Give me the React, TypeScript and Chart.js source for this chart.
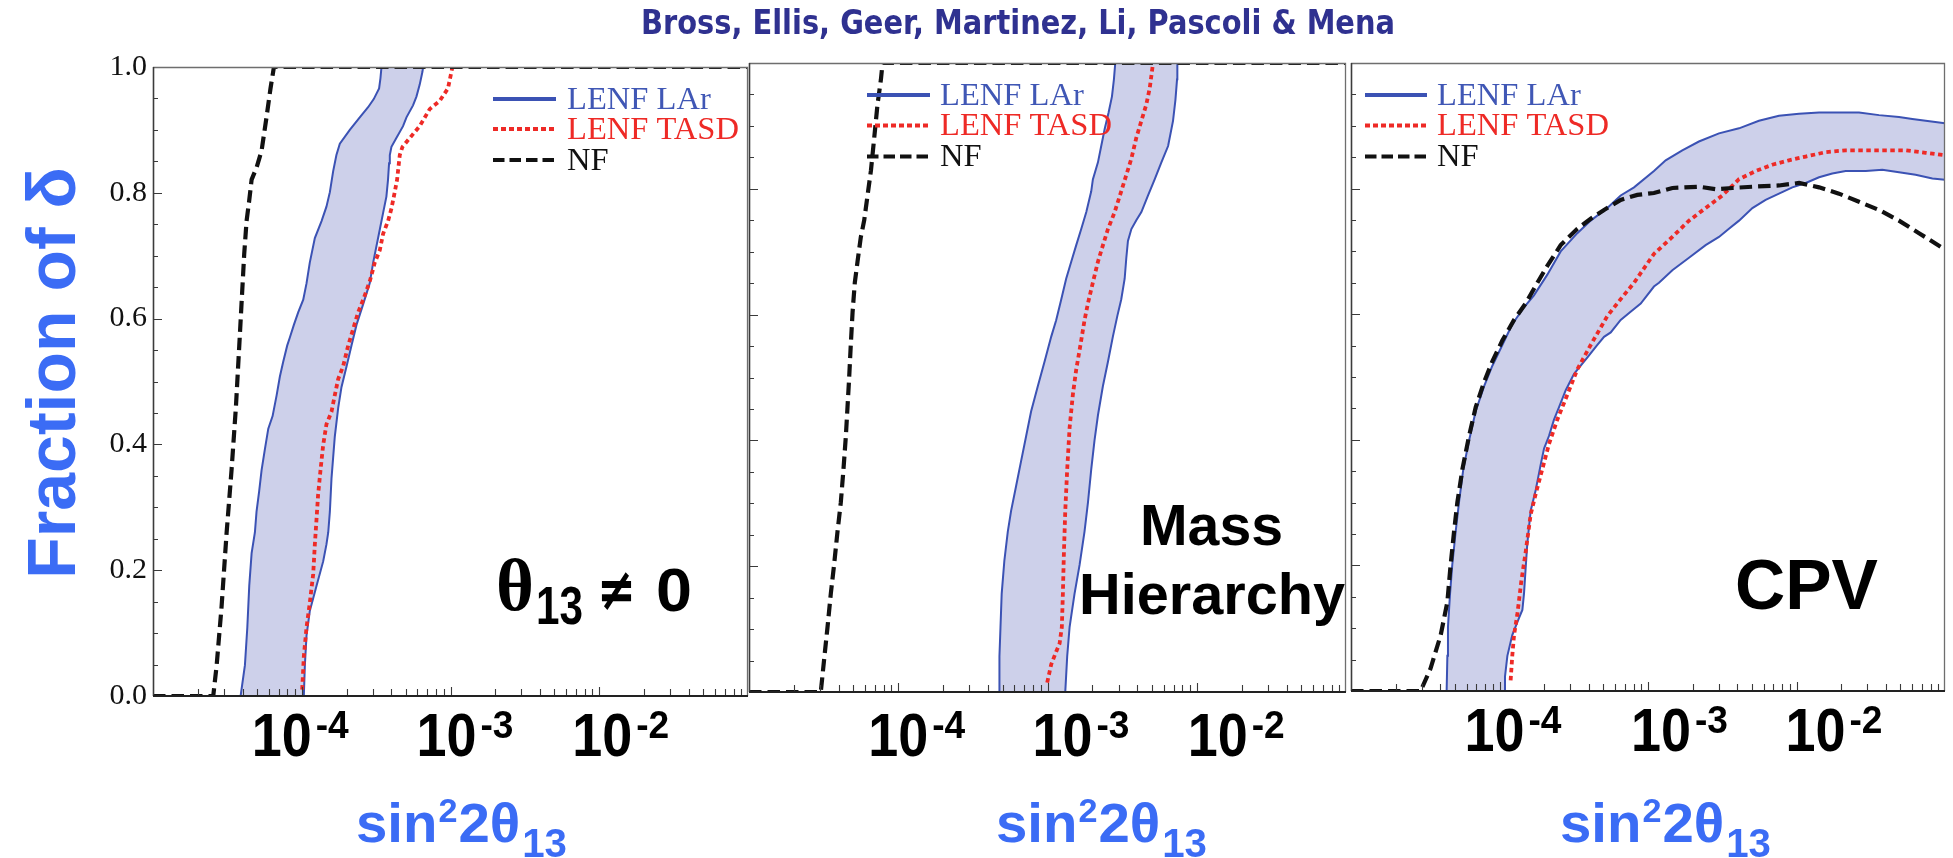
import React, { useEffect, useRef } from 'react';
import { Chart, registerables } from 'chart.js';

Chart.register(...registerables);

const W = 1953;
const H = 858;

// ---------- tick / label data ----------
const xDecadeExps = [-4, -3, -2];
const yTickStep = 0.2;
const legendLabels = ['LENF LAr', 'LENF TASD', 'NF'];
const panelTitleTexts = ['θ13 ≠ 0', 'Mass Hierarchy', 'CPV'];

// ---------- Panel 1 : theta13 != 0  (x given as log10 sin^2 2theta13) ----------
const thetaNfLog = [-5, -4.595, -4.572, -4.539, -4.505, -4.472, -4.443, -4.42, -4.405, -4.387, -4.371, -4.353, -4.337, -4.304, -4.27, -4.237, -4.21, -4.187, -1];
const thetaNfFrac = [0, 0, 0.049, 0.142, 0.26, 0.359, 0.458, 0.557, 0.623, 0.702, 0.755, 0.788, 0.821, 0.84, 0.867, 0.92, 0.966, 1, 1];

const thetaBandLeftLog = [-4.411, -4.382, -4.366, -4.353, -4.337, -4.315, -4.304, -4.286, -4.27, -4.248, -4.225, -4.196, -4.169, -4.147, -4.125, -4.098, -4.08, -4.053, -4.024, -3.99, -3.968, -3.946, -3.912, -3.867, -3.834, -3.811, -3.789, -3.767, -3.744, -3.677, -3.61, -3.554, -3.516, -3.48, -3.471, -3.464];
const thetaBandLeftFrac = [0, 0.049, 0.109, 0.175, 0.227, 0.26, 0.293, 0.326, 0.359, 0.392, 0.425, 0.445, 0.478, 0.508, 0.531, 0.557, 0.57, 0.59, 0.61, 0.63, 0.656, 0.689, 0.728, 0.755, 0.778, 0.801, 0.834, 0.86, 0.878, 0.9, 0.92, 0.936, 0.949, 0.966, 0.982, 1];

const thetaBandRightLog = [-3.986, -3.979, -3.968, -3.946, -3.901, -3.856, -3.834, -3.822, -3.811, -3.8, -3.789, -3.778, -3.755, -3.733, -3.699, -3.666, -3.632, -3.587, -3.543, -3.52, -3.498, -3.475, -3.453, -3.431, -3.42, -3.413, -3.408, -3.397, -3.364, -3.319, -3.296, -3.252, -3.229, -3.207, -3.189, -3.184];
const thetaBandRightFrac = [0, 0.049, 0.096, 0.135, 0.175, 0.214, 0.241, 0.26, 0.293, 0.346, 0.379, 0.412, 0.458, 0.491, 0.524, 0.557, 0.59, 0.623, 0.656, 0.689, 0.715, 0.742, 0.768, 0.794, 0.821, 0.847, 0.86, 0.873, 0.887, 0.906, 0.92, 0.939, 0.953, 0.972, 0.992, 1];

const thetaTasdLog = [-3.997, -3.986, -3.968, -3.946, -3.923, -3.912, -3.901, -3.89, -3.874, -3.856, -3.834, -3.8, -3.778, -3.755, -3.722, -3.688, -3.655, -3.621, -3.587, -3.543, -3.509, -3.475, -3.453, -3.42, -3.397, -3.375, -3.359, -3.341, -3.323, -3.274, -3.207, -3.14, -3.073, -3.017, -2.994, -2.987];
const thetaTasdFrac = [0.01, 0.063, 0.109, 0.148, 0.194, 0.241, 0.28, 0.32, 0.359, 0.399, 0.432, 0.452, 0.478, 0.504, 0.524, 0.557, 0.583, 0.61, 0.63, 0.659, 0.689, 0.709, 0.735, 0.755, 0.775, 0.801, 0.821, 0.86, 0.873, 0.887, 0.906, 0.933, 0.946, 0.966, 0.992, 1];

// ---------- Panel 2 : Mass Hierarchy ----------
const mhNfLog = [-5, -4.519, -4.497, -4.474, -4.452, -4.43, -4.407, -4.385, -4.367, -4.351, -4.34, -4.329, -4.318, -4.306, -4.291, -4.273, -4.251, -4.228, -4.206, -4.183, -4.161, -4.139, -4.116, -4.105, -1];
const mhNfFrac = [0, 0, 0.051, 0.103, 0.156, 0.202, 0.255, 0.301, 0.354, 0.407, 0.453, 0.499, 0.552, 0.604, 0.651, 0.684, 0.723, 0.75, 0.789, 0.829, 0.881, 0.934, 0.974, 1, 1];

const mhBandLeftLog = [-3.322, -3.322, -3.315, -3.307, -3.289, -3.266, -3.244, -3.21, -3.177, -3.143, -3.11, -3.065, -3.02, -2.975, -2.942, -2.908, -2.875, -2.841, -2.808, -2.774, -2.74, -2.707, -2.696, -2.662, -2.64, -2.617, -2.591, -2.568, -2.555, -2.546];
const mhBandLeftFrac = [0, 0.057, 0.103, 0.156, 0.209, 0.255, 0.288, 0.328, 0.367, 0.407, 0.446, 0.486, 0.525, 0.565, 0.591, 0.624, 0.657, 0.684, 0.71, 0.736, 0.763, 0.796, 0.815, 0.842, 0.868, 0.895, 0.921, 0.947, 0.974, 1];

const mhBandRightLog = [-2.881, -2.868, -2.852, -2.819, -2.785, -2.752, -2.729, -2.707, -2.685, -2.662, -2.629, -2.595, -2.562, -2.532, -2.506, -2.483, -2.472, -2.461, -2.438, -2.405, -2.371, -2.327, -2.282, -2.237, -2.192, -2.159, -2.143, -2.132, -2.13];
const mhBandRightFrac = [0, 0.057, 0.103, 0.156, 0.202, 0.255, 0.301, 0.354, 0.4, 0.44, 0.486, 0.525, 0.565, 0.598, 0.624, 0.657, 0.69, 0.717, 0.736, 0.75, 0.763, 0.789, 0.815, 0.842, 0.868, 0.908, 0.941, 0.974, 1];

const mhTasdLog = [-3.002, -2.975, -2.942, -2.919, -2.904, -2.897, -2.89, -2.881, -2.868, -2.852, -2.83, -2.808, -2.779, -2.752, -2.729, -2.696, -2.662, -2.629, -2.595, -2.55, -2.506, -2.472, -2.438, -2.405, -2.371, -2.338, -2.315, -2.3, -2.293];
const mhTasdFrac = [0.015, 0.044, 0.064, 0.077, 0.103, 0.156, 0.222, 0.288, 0.354, 0.42, 0.473, 0.512, 0.552, 0.591, 0.618, 0.651, 0.684, 0.71, 0.736, 0.763, 0.796, 0.822, 0.848, 0.881, 0.908, 0.934, 0.96, 0.987, 1];

// ---------- Panel 3 : CPV ----------
const cpvNfLog = [-5, -4.531, -4.464, -4.396, -4.351, -4.329, -4.306, -4.284, -4.25, -4.205, -4.16, -4.104, -4.048, -3.981, -3.902, -3.824, -3.745, -3.678, -3.588, -3.476, -3.386, -3.296, -3.184, -3.072, -2.96, -2.836, -2.657, -2.544, -2.432, -2.297, -2.118, -1.983, -1.848, -1.714, -1.579, -1.444, -1.31, -1.175, -1.0];
const cpvNfFrac = [0, 0, 0.036, 0.089, 0.142, 0.201, 0.254, 0.3, 0.353, 0.406, 0.452, 0.492, 0.525, 0.558, 0.591, 0.617, 0.65, 0.677, 0.71, 0.736, 0.752, 0.766, 0.782, 0.79, 0.793, 0.801, 0.803, 0.799, 0.801, 0.803, 0.805, 0.809, 0.802, 0.792, 0.779, 0.766, 0.749, 0.729, 0.703];

const cpvBandUpperLog = [-4.356, -4.351, -4.347, -4.333, -4.318, -4.295, -4.273, -4.244, -4.205, -4.16, -4.104, -4.048, -3.981, -3.914, -3.835, -3.768, -3.678, -3.588, -3.476, -3.386, -3.274, -3.184, -3.094, -2.96, -2.881, -2.769, -2.657, -2.522, -2.387, -2.253, -2.118, -1.983, -1.848, -1.714, -1.579, -1.444, -1.31, -1.22, -1.13, -1.0];
const cpvBandUpperFrac = [0, 0.056, 0.102, 0.155, 0.201, 0.254, 0.3, 0.353, 0.399, 0.446, 0.485, 0.518, 0.551, 0.584, 0.611, 0.63, 0.663, 0.7, 0.729, 0.749, 0.769, 0.789, 0.802, 0.828, 0.845, 0.861, 0.875, 0.888, 0.896, 0.908, 0.916, 0.919, 0.921, 0.921, 0.921, 0.917, 0.914, 0.911, 0.908, 0.904];

const cpvBandLowerLog = [-3.963, -3.963, -3.947, -3.914, -3.869, -3.846, -3.835, -3.824, -3.813, -3.79, -3.756, -3.723, -3.7, -3.667, -3.633, -3.599, -3.554, -3.498, -3.453, -3.409, -3.341, -3.296, -3.251, -3.184, -3.117, -3.049, -2.96, -2.926, -2.836, -2.724, -2.612, -2.522, -2.455, -2.387, -2.297, -2.208, -2.118, -2.028, -1.938, -1.848, -1.759, -1.669, -1.534, -1.422, -1.31, -1.198, -1.085, -1.0];
const cpvBandLowerFrac = [0, 0.023, 0.056, 0.089, 0.116, 0.129, 0.155, 0.195, 0.234, 0.287, 0.32, 0.36, 0.386, 0.406, 0.432, 0.452, 0.479, 0.505, 0.518, 0.531, 0.551, 0.564, 0.571, 0.591, 0.604, 0.617, 0.644, 0.65, 0.67, 0.69, 0.71, 0.723, 0.736, 0.749, 0.769, 0.782, 0.792, 0.802, 0.809, 0.818, 0.824, 0.828, 0.828, 0.83, 0.826, 0.822, 0.816, 0.814];

const cpvTasdLog = [-3.925, -3.914, -3.902, -3.88, -3.853, -3.824, -3.79, -3.756, -3.712, -3.667, -3.611, -3.543, -3.476, -3.386, -3.274, -3.184, -3.094, -2.96, -2.836, -2.724, -2.612, -2.5, -2.387, -2.275, -2.163, -2.051, -1.938, -1.804, -1.669, -1.534, -1.399, -1.265, -1.13, -1.0];
const cpvTasdFrac = [0.017, 0.056, 0.089, 0.122, 0.175, 0.221, 0.281, 0.314, 0.353, 0.393, 0.432, 0.472, 0.512, 0.551, 0.597, 0.624, 0.65, 0.696, 0.723, 0.749, 0.769, 0.789, 0.815, 0.828, 0.838, 0.845, 0.851, 0.858, 0.861, 0.861, 0.861, 0.861, 0.857, 0.853];

// ---------- styles ----------
const FONT_SANS = '"Liberation Sans", Arial, sans-serif';
const FONT_SERIF = '"Liberation Serif", "Times New Roman", serif';
const BLUE_EDGE = '#3b52b4';
const BLUE_TEXT = '#4057b5';
const BAND_FILL = 'rgb(205,208,234)';
const RED = '#ee2a26';
const BLACK = '#111111';
const AXIS_BLUE = '#3b6cf5';
const TITLE_BLUE = '#2f3190';

const NF_DASH = [12.5, 6];
const TASD_DASH = [4.5, 3.5];

const pts = (logs: number[], fr: number[]) => logs.map((l, i) => ({ x: Math.pow(10, l), y: fr[i] }));

type Area = { left: number; top: number; right: number; bottom: number };
type PanelSpec = {
  key: string;
  area: Area;
  showY: boolean;
  nf: [number[], number[]];
  edgeA: [number[], number[]];
  edgeB: [number[], number[]];
  tasd: [number[], number[]];
  legend: { x0: number; x1: number; tx: number; ys: number[] };
  decadeShift: number[];
  decadeBaseline: number;
  xTitleLeft: number;
  annotate: (ctx: CanvasRenderingContext2D) => void;
};

function fitText(ctx: CanvasRenderingContext2D, text: string, x: number, y: number, font: string, color: string, width?: number | null, sx0 = 1) {
  ctx.save();
  ctx.font = font;
  ctx.fillStyle = color;
  ctx.textAlign = 'left';
  ctx.textBaseline = 'alphabetic';
  const w = ctx.measureText(text).width;
  const sx = width ? width / w : sx0;
  ctx.translate(x, y);
  ctx.scale(sx, 1);
  ctx.fillText(text, 0, 0);
  ctx.restore();
}

type Run = { t: string; font: string; dy?: number; gap?: number };
function drawRuns(ctx: CanvasRenderingContext2D, runs: Run[], x: number, y: number, color: string, width?: number) {
  ctx.save();
  ctx.fillStyle = color;
  ctx.textAlign = 'left';
  ctx.textBaseline = 'alphabetic';
  let total = 0;
  const ws = runs.map((r) => {
    ctx.font = r.font;
    const w = ctx.measureText(r.t).width;
    total += w + (r.gap || 0);
    return w;
  });
  const sx = width ? width / total : 1;
  ctx.translate(x, y);
  ctx.scale(sx, 1);
  let cx = 0;
  runs.forEach((r, i) => {
    cx += r.gap || 0;
    ctx.font = r.font;
    ctx.fillText(r.t, cx, r.dy || 0);
    cx += ws[i];
  });
  ctx.restore();
}

const panels: PanelSpec[] = [
  {
    key: 'theta',
    area: { left: 153, top: 67, right: 748, bottom: 696 },
    showY: true,
    nf: [thetaNfLog, thetaNfFrac],
    edgeA: [thetaBandLeftLog, thetaBandLeftFrac],
    edgeB: [thetaBandRightLog, thetaBandRightFrac],
    tasd: [thetaTasdLog, thetaTasdFrac],
    legend: { x0: 493, x1: 556, tx: 567, ys: [99, 129, 160] },
    decadeShift: [-50, -34, -27],
    decadeBaseline: 756,
    xTitleLeft: 356,
    annotate: (ctx) => {
      const t = panelTitleTexts[0];
      fitText(ctx, t.slice(0, 1), 496, 610, `bold 74px ${FONT_SERIF}`, '#000', 38);
      fitText(ctx, t.slice(1, 3), 536, 624, `bold 54px ${FONT_SANS}`, '#000', 47);
      fitText(ctx, '≠', 597, 610, `bold 60px "DejaVu Sans", sans-serif`, '#000', 39);
      fitText(ctx, t.slice(-1), 656, 611, `bold 62px ${FONT_SANS}`, '#000', 36);
    },
  },
  {
    key: 'mh',
    area: { left: 749, top: 63, right: 1346, bottom: 692 },
    showY: false,
    nf: [mhNfLog, mhNfFrac],
    edgeA: [mhBandLeftLog, mhBandLeftFrac],
    edgeB: [mhBandRightLog, mhBandRightFrac],
    tasd: [mhTasdLog, mhTasdFrac],
    legend: { x0: 867, x1: 930, tx: 940, ys: [95, 125.5, 156.5] },
    decadeShift: [-30, -15, -9],
    decadeBaseline: 756,
    xTitleLeft: 996,
    annotate: (ctx) => {
      const [a, b] = panelTitleTexts[1].split(' ');
      fitText(ctx, a, 1140, 545, `bold 57px ${FONT_SANS}`, '#000', 143);
      fitText(ctx, b, 1079, 614, `bold 57px ${FONT_SANS}`, '#000', 266);
    },
  },
  {
    key: 'cpv',
    area: { left: 1351, top: 63, right: 1945, bottom: 691 },
    showY: false,
    nf: [cpvNfLog, cpvNfFrac],
    edgeA: [cpvBandUpperLog, cpvBandUpperFrac],
    edgeB: [cpvBandLowerLog, cpvBandLowerFrac],
    tasd: [cpvTasdLog, cpvTasdFrac],
    legend: { x0: 1365, x1: 1427, tx: 1437, ys: [95, 125.5, 156.5] },
    decadeShift: [-35, -17, -11],
    decadeBaseline: 751,
    xTitleLeft: 1560,
    annotate: (ctx) => {
      fitText(ctx, panelTitleTexts[2], 1735, 609, `bold 71px ${FONT_SANS}`, '#000', 143);
    },
  },
];

const legendStyles = [
  { color: BLUE_EDGE, text: BLUE_TEXT, dash: [] as number[] },
  { color: RED, text: RED, dash: [5, 3] },
  { color: BLACK, text: BLACK, dash: [11.5, 5] },
];

function makeDecor(spec: PanelSpec, first: boolean) {
  return {
    id: 'decor_' + spec.key,
    afterDatasetsDraw(chart: any) {
      const { ctx, chartArea: a } = chart;
      const xs = chart.scales.x;
      const ys = chart.scales.y;
      ctx.save();
      ctx.strokeStyle = '#3a3a3a';
      ctx.lineWidth = 1.1;
      ctx.beginPath();
      for (let d = -5; d <= -2; d++) {
        for (let m = 1; m <= 9; m++) {
          if (d === -5 && m === 1) continue;
          const px = Math.round(xs.getPixelForValue(m * Math.pow(10, d))) + 0.5;
          const len = m === 1 ? 9 : 7;
          ctx.moveTo(px, a.bottom);
          ctx.lineTo(px, a.bottom - len);
        }
      }
      for (let k = 1; k < 20; k++) {
        const py = Math.round(ys.getPixelForValue(k * 0.05)) + 0.5;
        const len = k % 4 === 0 ? 9 : 5;
        ctx.moveTo(a.left, py);
        ctx.lineTo(a.left + len, py);
      }
      ctx.stroke();
      // frame
      ctx.strokeStyle = '#6e6e6e';
      ctx.lineWidth = 1.3;
      ctx.beginPath();
      ctx.moveTo(a.left, a.top + 0.5);
      ctx.lineTo(a.right - 0.5, a.top + 0.5);
      ctx.lineTo(a.right - 0.5, a.bottom);
      ctx.stroke();
      ctx.strokeStyle = '#3c3c3c';
      ctx.lineWidth = 1.6;
      ctx.beginPath();
      ctx.moveTo(a.left + 0.5, a.top);
      ctx.lineTo(a.left + 0.5, a.bottom);
      ctx.stroke();
      ctx.strokeStyle = '#222';
      ctx.lineWidth = 2;
      ctx.beginPath();
      ctx.moveTo(a.left, a.bottom);
      ctx.lineTo(a.right, a.bottom);
      ctx.stroke();
      ctx.restore();
    },
    afterDraw(chart: any) {
      const { ctx } = chart;
      const xs = chart.scales.x;
      // legend
      const L = spec.legend;
      legendLabels.forEach((lab, i) => {
        const st = legendStyles[i];
        const yy = L.ys[i];
        ctx.save();
        ctx.strokeStyle = st.color;
        ctx.lineWidth = 4.2;
        ctx.setLineDash(st.dash);
        ctx.beginPath();
        ctx.moveTo(L.x0, yy);
        ctx.lineTo(L.x1, yy);
        ctx.stroke();
        ctx.restore();
        fitText(ctx, lab, L.tx, yy + 9.5, `31px ${FONT_SERIF}`, st.text, null, 1.05);
      });
      // big decade tick labels
      xDecadeExps.forEach((e, i) => {
        const left = xs.getPixelForValue(Math.pow(10, e)) + spec.decadeShift[i];
        const b = spec.decadeBaseline;
        fitText(ctx, '10', left, b, `bold 62px ${FONT_SANS}`, '#000', 60);
        fitText(ctx, String(e), left + 64, b - 18, `bold 38px ${FONT_SANS}`, '#000', 33);
      });
      // x axis title
      drawRuns(
        ctx,
        [
          { t: 'sin', font: `bold 56px ${FONT_SANS}` },
          { t: '2', font: `bold 34px ${FONT_SANS}`, dy: -20, gap: 1 },
          { t: '2θ', font: `bold 56px ${FONT_SANS}`, gap: 1 },
          { t: '13', font: `bold 40px ${FONT_SANS}`, dy: 15, gap: 2 },
        ],
        spec.xTitleLeft,
        842,
        AXIS_BLUE,
        211
      );
      spec.annotate(ctx);
      if (first) {
        fitText(ctx, 'Bross, Ellis, Geer, Martinez, Li, Pascoli & Mena', 641, 34, `bold 33px "DejaVu Sans", sans-serif`, TITLE_BLUE, 754);
        ctx.save();
        ctx.translate(75, 373);
        ctx.rotate(-Math.PI / 2);
        ctx.font = `bold 68px ${FONT_SANS}`;
        ctx.fillStyle = AXIS_BLUE;
        ctx.textAlign = 'center';
        ctx.textBaseline = 'alphabetic';
        ctx.fillText('Fraction of δ', 0, 0);
        ctx.restore();
      }
    },
  };
}

function buildConfig(spec: PanelSpec, first: boolean): any {
  const yW = spec.showY ? 80 : 0;
  const edgeA = pts(spec.edgeA[0], spec.edgeA[1]);
  const edgeB = pts(spec.edgeB[0], spec.edgeB[1]);
  const band = [...edgeA, ...edgeB.slice().reverse()];
  const common = { pointRadius: 0, tension: 0, spanGaps: true };
  return {
    type: 'line',
    data: {
      datasets: [
        { label: 'NF', data: pts(spec.nf[0], spec.nf[1]), borderColor: BLACK, borderWidth: 4.2, borderDash: NF_DASH, fill: false, order: 1, ...common },
        { label: 'LENF TASD', data: pts(spec.tasd[0], spec.tasd[1]), borderColor: RED, borderWidth: 3.8, borderDash: TASD_DASH, fill: false, order: 2, ...common },
        { label: 'LENF LAr edge 1', data: edgeA, borderColor: BLUE_EDGE, borderWidth: 2, fill: false, order: 3, ...common },
        { label: 'LENF LAr edge 2', data: edgeB, borderColor: BLUE_EDGE, borderWidth: 2, fill: false, order: 3, ...common },
        { label: 'LENF LAr band', data: band, borderColor: 'rgba(0,0,0,0)', borderWidth: 1, backgroundColor: BAND_FILL, fill: 'shape', order: 5, ...common },
      ],
    },
    options: {
      responsive: false,
      maintainAspectRatio: false,
      animation: false,
      devicePixelRatio: 1,
      events: [],
      layout: {
        padding: {
          left: spec.area.left - yW,
          top: spec.area.top,
          right: W - spec.area.right,
          bottom: H - spec.area.bottom,
        },
      },
      plugins: { legend: { display: false }, tooltip: { enabled: false }, title: { display: false } },
      scales: {
        x: {
          type: 'logarithmic',
          min: 1e-5,
          max: 1e-1,
          grid: { display: false, drawTicks: false },
          border: { display: false },
          ticks: { display: false },
          afterFit: (s: any) => {
            s.height = 0;
          },
        },
        y: {
          type: 'linear',
          min: 0,
          max: 1,
          grid: { display: false, drawTicks: false },
          border: { display: false },
          ticks: {
            display: spec.showY,
            stepSize: yTickStep,
            padding: 6,
            color: '#111',
            font: { family: 'Liberation Serif', size: 30 },
            callback: (v: any) => Number(v).toFixed(1),
          },
          afterFit: (s: any) => {
            s.width = yW;
          },
        },
      },
    },
    plugins: [makeDecor(spec, first)],
  };
}

function Panel({ spec, first }: { spec: PanelSpec; first: boolean }) {
  const ref = useRef<HTMLCanvasElement>(null);
  useEffect(() => {
    if (!ref.current) return;
    const chart = new Chart(ref.current, buildConfig(spec, first));
    return () => chart.destroy();
  }, [spec, first]);
  return <canvas ref={ref} width={W} height={H} style={{ position: 'absolute', left: 0, top: 0, width: W, height: H }} />;
}

export default function App() {
  useEffect(() => {
    document.body.style.margin = '0';
  }, []);
  return (
    <div style={{ position: 'fixed', left: 0, top: 0, width: W, height: H, background: '#ffffff', overflow: 'hidden' }}>
      {panels.map((p, i) => (
        <Panel key={p.key} spec={p} first={i === 0} />
      ))}
    </div>
  );
}
